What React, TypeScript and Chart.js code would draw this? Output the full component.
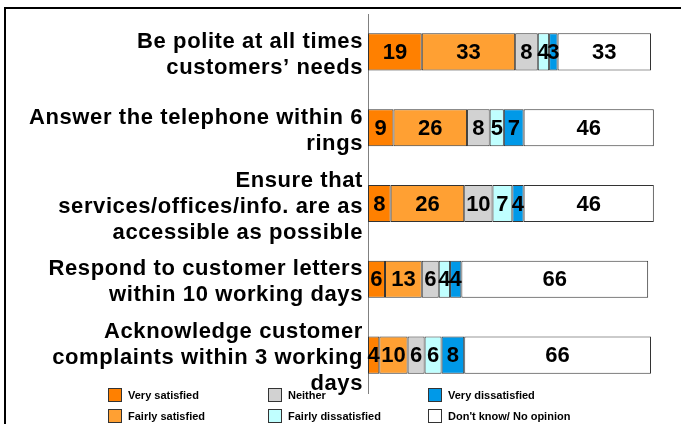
import React, { useEffect, useRef } from "react";
import { Chart, registerables } from "chart.js";

Chart.register(...registerables);

const categories: string[][] = [
  ["Be polite at all times", "customers\u2019 needs"],
  ["Answer the telephone within 6", "rings"],
  ["Ensure that", "services/offices/info. are as", "accessible as possible"],
  ["Respond to customer letters", "within 10 working days"],
  ["Acknowledge customer", "complaints within 3 working", "days"],
];

const seriesNames = [
  "Very satisfied",
  "Fairly satisfied",
  "Neither",
  "Fairly dissatisfied",
  "Very dissatisfied",
  "Don't know/ No opinion",
];

const verySatisfied = [19, 9, 8, 6, 4];
const fairlySatisfied = [33, 26, 26, 13, 10];
const neither = [8, 8, 10, 6, 6];
const fairlyDissatisfied = [4, 5, 7, 4, 6];
const veryDissatisfied = [3, 7, 4, 4, 8];
const dontKnow = [33, 46, 46, 66, 66];

const seriesColors = ["#FF8000", "#FFA033", "#D2D2D2", "#C0FFFF", "#0099E8", "#FFFFFF"];

const FONT = "'Liberation Sans', Arial, sans-serif";

const framePlugin = {
  id: "frame",
  beforeDraw(chart: any) {
    const ctx = chart.ctx;
    ctx.save();
    ctx.strokeStyle = "#000";
    ctx.lineWidth = 2;
    ctx.strokeRect(5, 8, 760, 500);
    // legend
    const cols = [108, 268, 428];
    const rows = [388, 409];
    const order = [
      [0, 0, 0],
      [1, 0, 1],
      [2, 1, 0],
      [3, 1, 1],
      [4, 2, 0],
      [5, 2, 1],
    ];
    ctx.font = `bold 11px ${FONT}`;
    ctx.textBaseline = "middle";
    ctx.textAlign = "left";
    order.forEach(([si, c, r]) => {
      const x = cols[c];
      const y = rows[r];
      ctx.fillStyle = seriesColors[si];
      ctx.fillRect(x, y, 13, 13);
      ctx.lineWidth = 1;
      ctx.strokeStyle = "#333";
      ctx.strokeRect(x + 0.5, y + 0.5, 13, 13);
      ctx.fillStyle = "#000";
      ctx.fillText(seriesNames[si], x + 20, y + 7.5);
    });
    ctx.restore();
    // wider tracking for axis labels
    (ctx as any).letterSpacing = "0.6px";
  },
};

const valueLabelPlugin = {
  id: "valueLabels",
  afterDatasetsDraw(chart: any) {
    const ctx = chart.ctx;
    ctx.save();
    (ctx as any).letterSpacing = "0px";
    ctx.font = `bold 22px ${FONT}`;
    ctx.fillStyle = "#000";
    ctx.textAlign = "center";
    ctx.textBaseline = "middle";
    chart.data.datasets.forEach((ds: any, di: number) => {
      const meta = chart.getDatasetMeta(di);
      meta.data.forEach((el: any, i: number) => {
        const v = ds.data[i];
        const p = el.getCenterPoint();
        ctx.fillText(String(v), p.x, p.y + 1);
      });
    });
    ctx.restore();
  },
  afterDraw(chart: any) {
    (chart.ctx as any).letterSpacing = "0px";
  },
};

export default function App() {
  const ref = useRef<HTMLCanvasElement>(null);
  useEffect(() => {
    if (!ref.current) return;
    const all = [verySatisfied, fairlySatisfied, neither, fairlyDissatisfied, veryDissatisfied, dontKnow];
    const chart = new Chart(ref.current, {
      type: "bar",
      data: {
        labels: categories,
        datasets: all.map((d, i) => ({
          label: seriesNames[i],
          data: d,
          backgroundColor: seriesColors[i],
          borderColor: "#333",
          borderWidth: 1,
          borderSkipped: false,
          barPercentage: 0.49,
          categoryPercentage: 1,
          clip: false as any,
        })),
      },
      options: {
        indexAxis: "y",
        animation: false,
        responsive: false,
        maintainAspectRatio: false,
        layout: { padding: { top: 14, bottom: 31, right: 30, left: 0 } },
        plugins: {
          legend: { display: false },
          tooltip: { enabled: false },
        },
        scales: {
          x: {
            stacked: true,
            min: 0,
            max: 100,
            display: false,
          },
          y: {
            stacked: true,
            grid: { display: false, drawTicks: false },
            border: { display: true, color: "#808080", width: 1 },
            ticks: {
              color: "#000",
              padding: 5,
              autoSkip: false,
              labelOffset: 3,
              font: { family: FONT, size: 22, weight: "bold", lineHeight: 1.18 },
            },
            afterFit(scale: any) {
              scale.width = 368;
              scale.paddingTop = 0;
              scale.paddingBottom = 0;
            },
          },
        },
      },
      plugins: [framePlugin, valueLabelPlugin],
    } as any);
    return () => chart.destroy();
  }, []);
  return (
    <div style={{ position: "absolute", left: 0, top: 0, width: 681, height: 424, background: "#fff" }}>
      <canvas ref={ref} width={681} height={424} />
    </div>
  );
}
